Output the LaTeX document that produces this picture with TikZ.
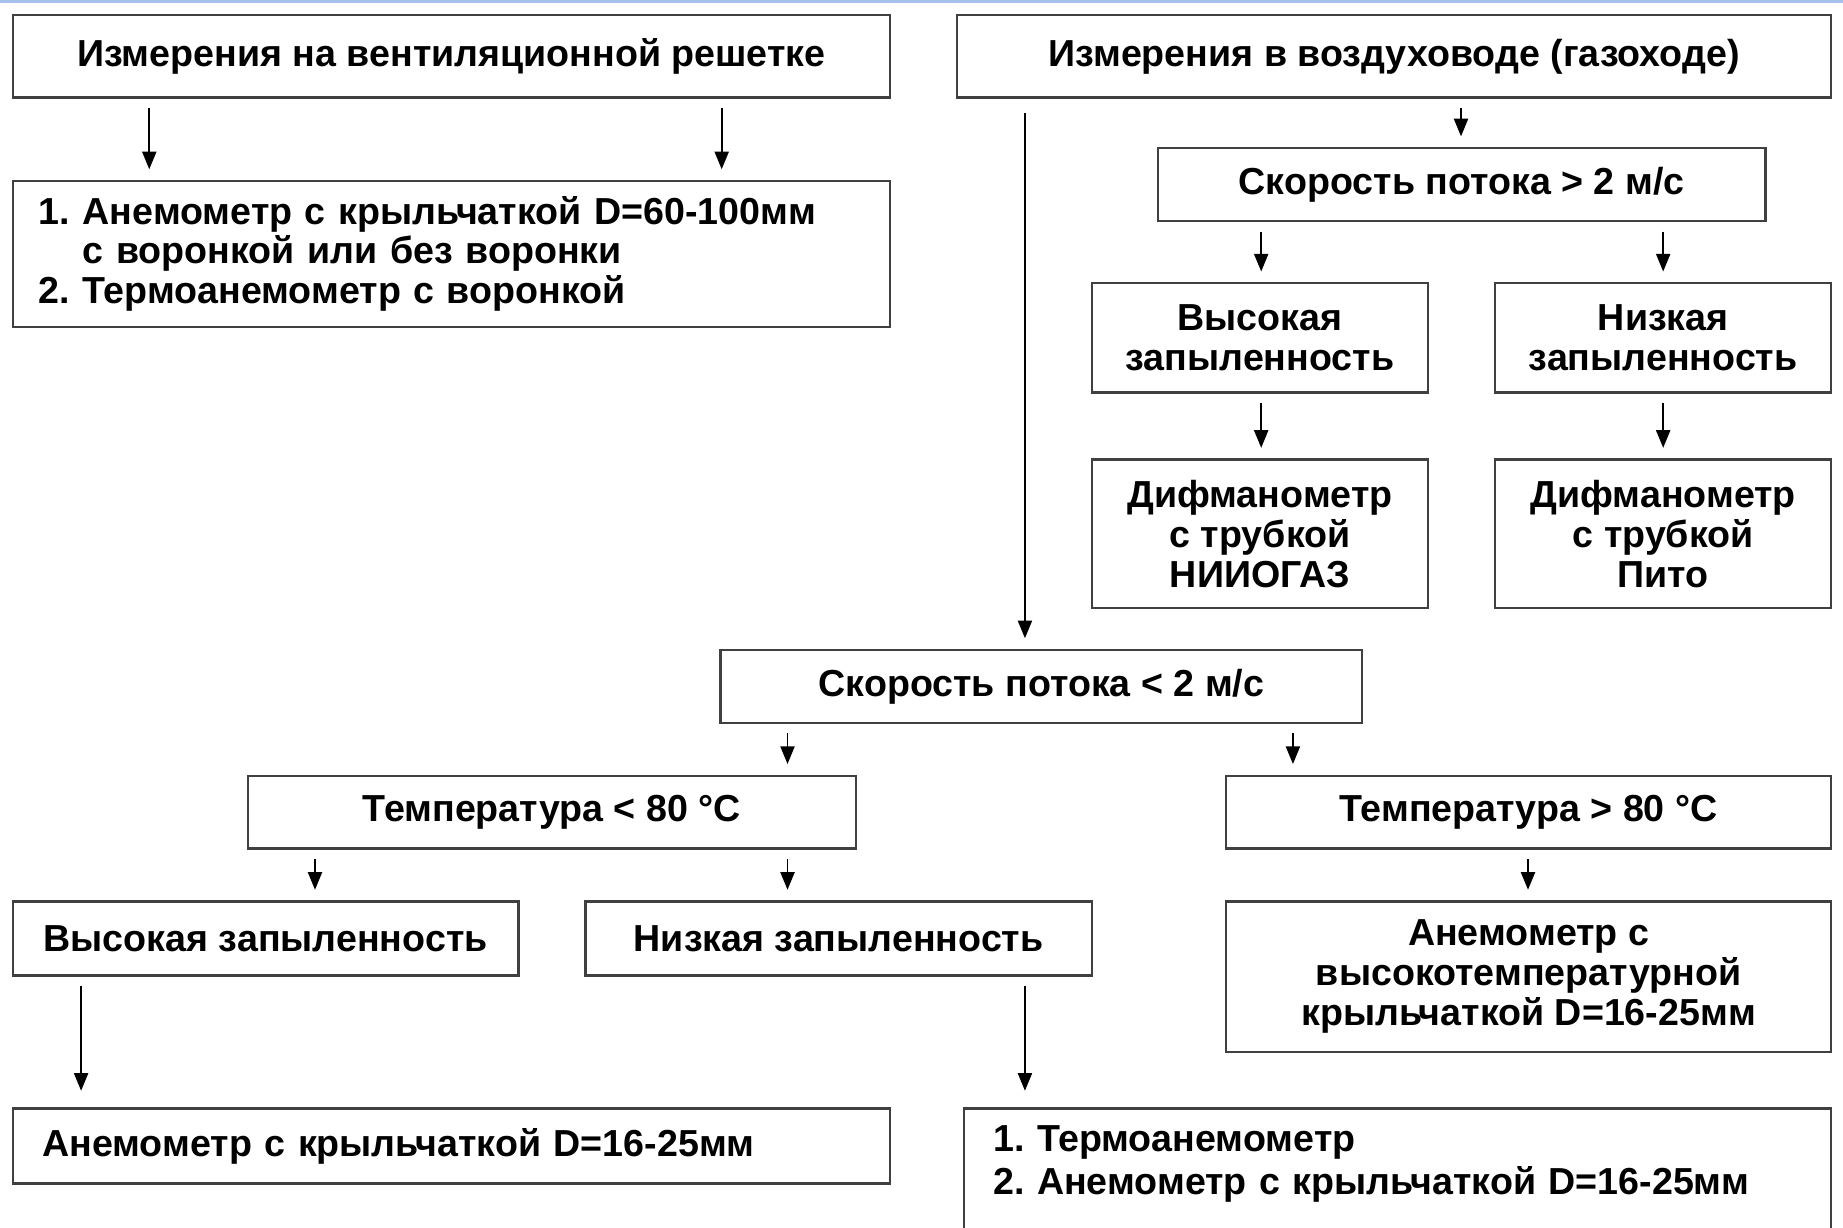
\documentclass[tikz,border=0pt]{standalone}
\usepackage{fontspec}
\setmainfont{Liberation Sans}
\usetikzlibrary{arrows.meta}
\definecolor{bandblue}{RGB}{165,192,234}
\definecolor{boxline}{RGB}{64,64,64}
\begin{document}
\begin{tikzpicture}[x=1pt,y=-1pt,
  box/.style={draw=boxline,line width=2pt,rectangle,inner sep=0pt,align=center,
    font=\frenchspacing\bfseries\fontsize{32}{34}\selectfont,text=black},
  lbox/.style={box,align=left},
  arr/.style={draw=black,line width=1.5pt,-{Triangle[length=15pt,width=12pt]},
    shorten <=8pt,shorten >=9pt}]
\useasboundingbox (0,0) rectangle (1568,1044);
\clip (0,0) rectangle (1568,1044);
\fill[white] (0,0) rectangle (1568,1044);
\fill[bandblue] (0,0) rectangle (1568,2.6);

\node[box,minimum width=746pt,minimum height=70pt] (A) at (384,48) {Измерения на вентиляционной решетке};
\node[box,minimum width=744pt,minimum height=70pt] (B) at (1186,48) {Измерения в воздуховоде (газоходе)};
\node[lbox,text width=702pt,inner xsep=22pt,minimum height=124pt] (C) at (384,216)
  {1. Анемометр с крыльчаткой D=60-100мм\\\hphantom{1.\ }с воронкой или без воронки\\2. Термоанемометр с воронкой};
\node[box,minimum width=517pt,minimum height=62pt] (D) at (1243.5,157) {Скорость потока > 2 м/с};
\node[box,minimum width=286pt,minimum height=93pt] (E) at (1072,287.5) {Высокая\\запыленность};
\node[box,minimum width=286pt,minimum height=93pt] (F) at (1415,287.5) {Низкая\\запыленность};
\node[box,minimum width=286pt,minimum height=126pt] (G) at (1072,454) {Дифманометр\\с трубкой\\НИИОГАЗ};
\node[box,minimum width=286pt,minimum height=126pt] (H) at (1415,454) {Дифманометр\\с трубкой\\Пито};
\node[box,minimum width=546pt,minimum height=62pt] (I) at (886,584) {Скорость потока < 2 м/с};
\node[box,minimum width=517pt,minimum height=62pt] (J) at (469.5,691) {Температура < 80 °C};
\node[box,minimum width=515pt,minimum height=62pt] (K) at (1300.5,691) {Температура > 80 °C};
\node[box,minimum width=430pt,minimum height=63pt] (L) at (226,798.5) {Высокая запыленность};
\node[box,minimum width=431pt,minimum height=63pt] (M) at (713.5,798.5) {Низкая запыленность};
\node[box,minimum width=515pt,minimum height=128pt] (N) at (1300.5,831) {Анемометр с\\высокотемпературной\\крыльчаткой D=16-25мм};
\node[lbox,text width=696pt,inner xsep=25pt,minimum height=64pt] (O) at (384,975) {Анемометр с крыльчаткой D=16-25мм};
\node[lbox,text width=688pt,inner xsep=25pt,minimum height=132pt] (P) at (1189,1009)
  {1. Термоанемометр\\[2pt]2. Анемометр с крыльчаткой D=16-25мм\\\strut};

\draw[arr] (127,0 |- A.south) -- (127,0 |- C.north);
\draw[arr] (614,0 |- A.south) -- (614,0 |- C.north);
\draw[arr] (1243,0 |- B.south) -- (1243,0 |- D.north);
\draw[arr,shorten <=12pt] (872,0 |- B.south) -- (872,0 |- I.north);
\draw[arr] (1073,0 |- D.south) -- (1073,0 |- E.north);
\draw[arr] (1415,0 |- D.south) -- (1415,0 |- F.north);
\draw[arr] (1073,0 |- E.south) -- (1073,0 |- G.north);
\draw[arr] (1415,0 |- F.south) -- (1415,0 |- H.north);
\draw[arr] (670,0 |- I.south) -- (670,0 |- J.north);
\draw[arr] (1100,0 |- I.south) -- (1100,0 |- K.north);
\draw[arr] (268,0 |- J.south) -- (268,0 |- L.north);
\draw[arr] (670,0 |- J.south) -- (670,0 |- M.north);
\draw[arr] (1300,0 |- K.south) -- (1300,0 |- N.north);
\draw[arr,shorten >=14pt] (69,0 |- L.south) -- (69,0 |- O.north);
\draw[arr,shorten >=14pt] (872,0 |- M.south) -- (872,0 |- P.north);
\end{tikzpicture}
\end{document}
